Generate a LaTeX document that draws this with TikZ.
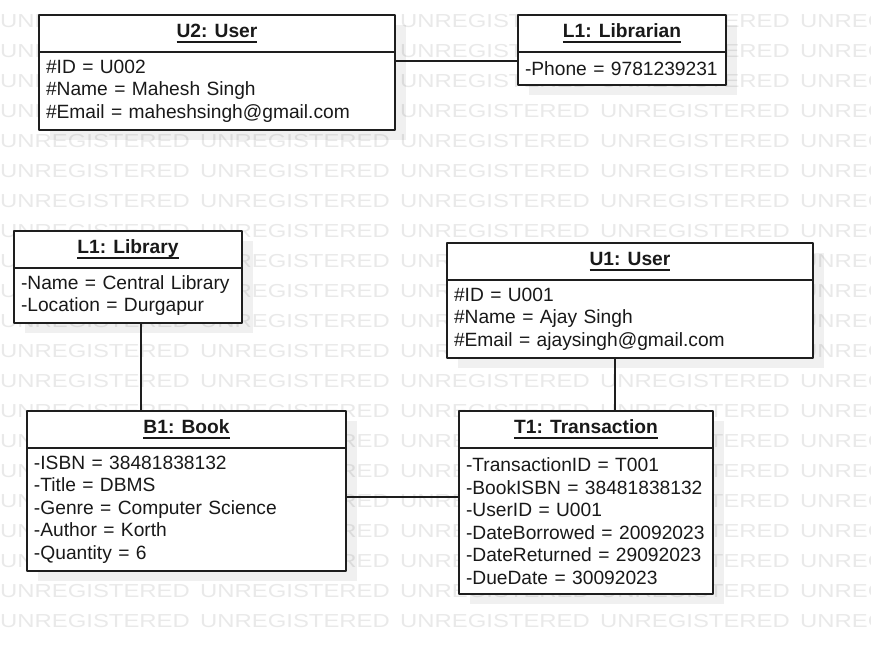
\documentclass[tikz,border=0pt]{standalone}
\usepackage{fontspec}
\setmainfont{Liberation Sans}
\newfontfamily\wmfont[FakeStretch=1.27]{Liberation Sans}
\usetikzlibrary{shadows}
\definecolor{wmgray}{RGB}{233,233,233}
\definecolor{boxline}{RGB}{30,30,30}
\newcommand\objname[1]{\setbox0\hbox{\bfseries #1}\rlap{\vrule height -3.5pt depth 5.5pt width \wd0}\box0}
\begin{document}
\begin{tikzpicture}[x=1pt, y=-1pt, line join=round, line cap=round,
	objhead/.style={draw=boxline, line width=1.4pt, fill=white, anchor=north west,
		inner sep=0pt, outer sep=0pt, minimum height=37pt, text=black!90,
		font=\fontsize{19.2}{22.5}\selectfont,
		drop shadow={shadow xshift=11pt, shadow yshift=-10pt, fill=black, opacity=0.06}},
	objbody/.style={objhead, align=left, inner xsep=7pt},
	wmark/.style={anchor=west, inner sep=0pt, text=wmgray,
		font=\wmfont\fontsize{18.8}{20}\selectfont},
	link/.style={draw=boxline, line width=1.4pt}]
	\useasboundingbox (0,0) rectangle (871,654);
	\clip (0,0) rectangle (871,654);
	\path (39,15) coordinate (pu2)
	(518,15) coordinate (plb)
	(14,231) coordinate (ply)
	(447,243) coordinate (pu1)
	(27,411) coordinate (pb1)
	(459,411) coordinate (pt1)
	;
	% watermark
	\foreach \r in {0,...,20}
	\foreach \c in {0,...,4}
	\node[wmark] (wm-\r-\c) at (200*\c, 21.5+30*\r) {UNREGISTERED};
	% objects
	\node[objhead, minimum width=356pt] (u2) at (pu2) {\objname{U2: User}};
	\node[objbody, text width=342pt, minimum height=78pt] (u2b) at (u2.south west)
	{\#ID = U002\\ \#Name = Mahesh Singh\\ \#Email = maheshsingh@gmail.com};
	\node[objhead, minimum width=208pt] (lb) at (plb) {\objname{L1: Librarian}};
	\node[objbody, text width=194pt, minimum height=33pt] (lbb) at (lb.south west)
	{-Phone~=~9781239231};
	\node[objhead, minimum width=228pt] (ly) at (ply) {\objname{L1: Library}};
	\node[objbody, text width=214pt, minimum height=55pt] (lyb) at (ly.south west)
	{-Name = Central Library\\ -Location = Durgapur};
	\node[objhead, minimum width=366pt] (u1) at (pu1) {\objname{U1: User}};
	\node[objbody, text width=352pt, minimum height=78pt] (u1b) at (u1.south west)
	{\#ID = U001\\ \#Name = Ajay Singh\\ \#Email = ajaysingh@gmail.com};
	\node[objhead, minimum width=319pt] (b1) at (pb1) {\objname{B1: Book}};
	\node[objbody, text width=305pt, minimum height=123pt] (b1b) at (b1.south west)
	{-ISBN = 38481838132\\ -Title = DBMS\\ -Genre = Computer Science\\
		-Author = Korth\\ -Quantity = 6};
	\node[objhead, minimum width=254pt] (t1) at (pt1) {\objname{T1: Transaction}};
	\node[objbody, text width=240pt, minimum height=146pt] (t1b) at (t1.south west)
	{-TransactionID~=~T001\\ -BookISBN~=~38481838132\\ -UserID~=~U001\\
		-DateBorrowed~=~20092023\\ -DateReturned~=~29092023\\ -DueDate~=~30092023};
	% links
	\draw[link] ([yshift=-9pt]u2b.north east) -- ([yshift=-9pt]lbb.north west);
	\draw[link] ([xshift=127pt]lyb.south west) -- ([xshift=127pt]lyb.south west |- b1.north);
	\draw[link] ([xshift=168pt]u1b.south west) -- ([xshift=168pt]u1b.south west |- t1.north);
	\draw[link] ([yshift=-49pt]b1b.north east) -- ([yshift=-49pt]b1b.north east -| t1b.west);
\end{tikzpicture}
\end{document}
